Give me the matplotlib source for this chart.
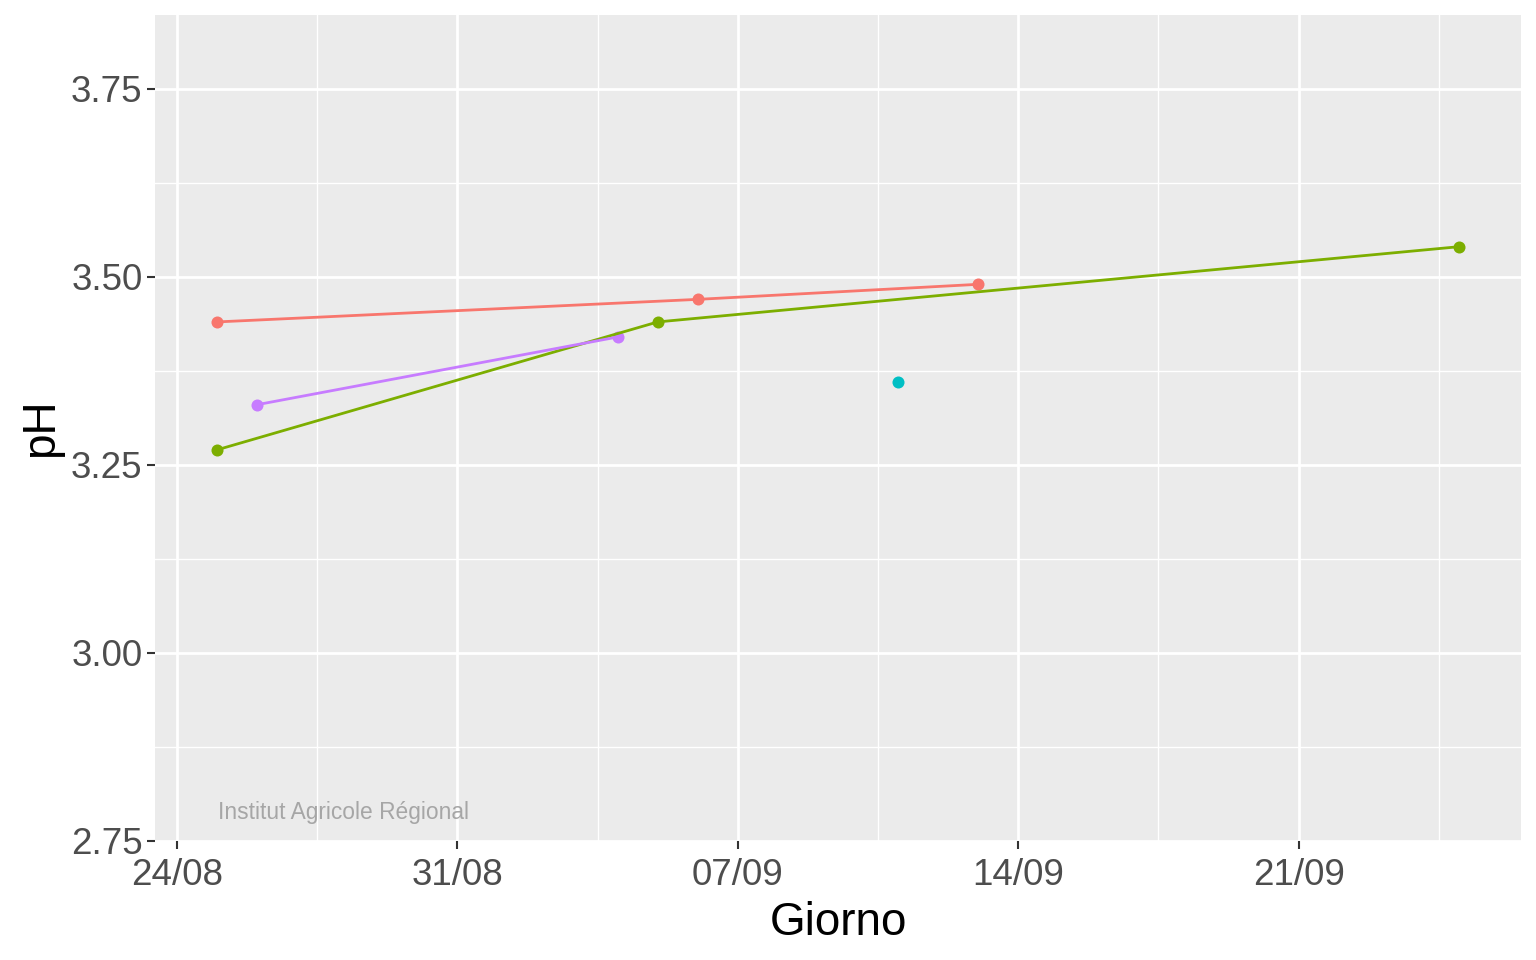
import matplotlib.pyplot as plt
import matplotlib.dates as mdates
import pandas as pd

plt.rcParams['font.family'] = ['Liberation Sans', 'DejaVu Sans']

# dati (pH per gruppo)
colori = ['#F8766D', '#7CAE00', '#00BFC4', '#C77CFF']
giorni_rosso = ['2020-08-25', '2020-09-06', '2020-09-13']
ph_rosso = [3.44, 3.47, 3.49]
giorni_verde = ['2020-08-25', '2020-09-05', '2020-09-25']
ph_verde = [3.27, 3.44, 3.54]
giorni_ciano = ['2020-09-11']
ph_ciano = [3.36]
giorni_viola = ['2020-08-26', '2020-09-04']
ph_viola = [3.33, 3.42]

serie = [(giorni_rosso, ph_rosso), (giorni_verde, ph_verde),
         (giorni_ciano, ph_ciano), (giorni_viola, ph_viola)]

fig = plt.figure(figsize=(15.36, 9.6), dpi=100)
ax = fig.add_axes([155 / 1536, 1 - 841 / 960, (1521 - 155) / 1536, (841 - 15) / 960])
ax.set_facecolor('#EBEBEB')

for (g, v), c in zip(serie, colori):
    ax.scatter(pd.to_datetime(g), v, s=75, color=c, zorder=3, linewidths=0)
for (g, v), c in zip(serie, colori):
    ax.plot(pd.to_datetime(g), v, color=c, lw=2, zorder=4)

x0 = pd.Timestamp('2020-08-25') - pd.Timedelta(days=1.55)
x1 = pd.Timestamp('2020-09-25') + pd.Timedelta(days=1.55)
ax.set_xlim(x0, x1)
ax.set_ylim(2.75, 3.848)

maj = pd.date_range('2020-08-24', '2020-09-21', freq='7D')
mnr = pd.date_range('2020-08-27 12:00', '2020-09-24 12:00', freq='7D')
ax.set_xticks(maj)
ax.set_xticks(mnr, minor=True)
ax.xaxis.set_major_formatter(mdates.DateFormatter('%d/%m'))
ax.set_yticks([2.75, 3.00, 3.25, 3.50, 3.75])
ax.set_yticks([2.875, 3.125, 3.375, 3.625], minor=True)
ax.set_yticklabels(['2.75', '3.00', '3.25', '3.50', '3.75'])

ax.grid(which='major', color='white', lw=2)
ax.grid(which='minor', color='white', lw=1)
ax.set_axisbelow(True)
for s in ax.spines.values():
    s.set_visible(False)
ax.tick_params(which='major', length=6, width=1.5, color='#333333',
               labelsize=26.5, labelcolor='#4D4D4D')
ax.tick_params(axis='x', which='major', pad=6)
ax.tick_params(axis='y', which='major', pad=3)
ax.tick_params(which='minor', length=0)

ax.set_xlabel('Giorno', fontsize=33, labelpad=6)
ax.set_ylabel('pH', fontsize=33, labelpad=6)

ax.text(0.046, 0.034, 'Institut Agricole Régional', transform=ax.transAxes,
        fontsize=16.4, color='#A6A6A6', ha='left', va='center')

fig.savefig('out.png', dpi=100)
